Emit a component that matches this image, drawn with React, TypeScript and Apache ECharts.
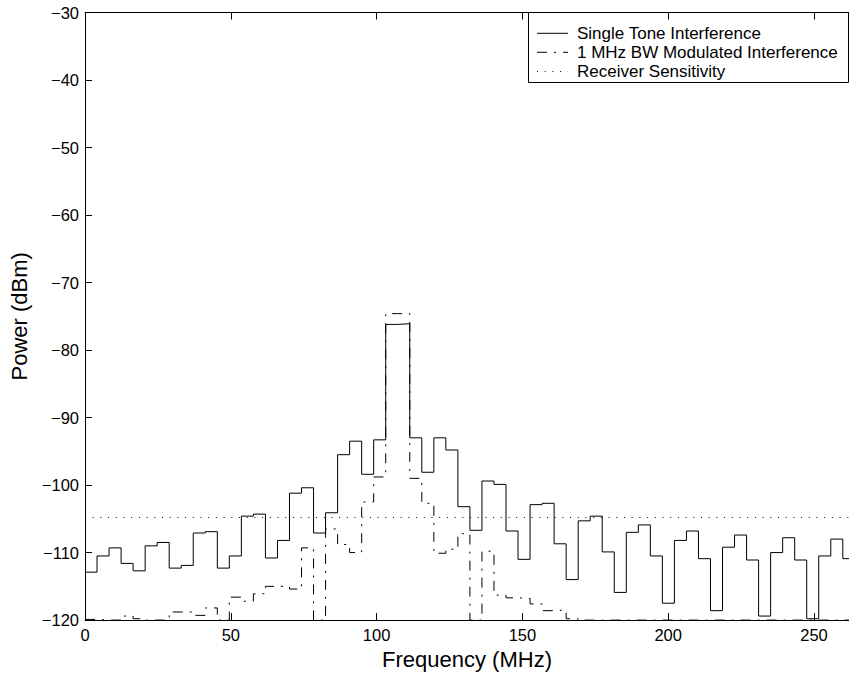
import React, { useEffect, useRef } from "react";
import * as echarts from "echarts";

// ---- data ----
const binWidth = 4.125; // MHz per step of the stair traces
const seriesNames = [
  "Single Tone Interference",
  "1 MHz BW Modulated Interference",
  "Receiver Sensitivity",
];
const singleTone = [
  -112.9, -110.5, -109.3, -111.6, -112.7, -109.0, -108.5, -112.3, -111.9, -107.1,
  -106.9, -112.3, -110.5, -104.6, -104.3, -110.8, -108.2, -101.2, -100.4, -107.1,
  -104.1, -95.5, -93.5, -98.4, -93.3, -76.2, -76.1, -93.0, -98.1, -93.0,
  -94.8, -103.2, -106.7, -99.4, -99.9, -106.8, -111.0, -102.9, -102.7, -108.7,
  -114.0, -105.3, -104.6, -109.9, -115.9, -107.0, -105.9, -110.5, -117.5, -108.2,
  -106.8, -110.9, -118.6, -109.2, -107.4, -111.1, -119.4, -110.0, -107.8, -111.1,
  -119.8, -110.5, -108.0, -110.9,
];
const modulated = [
  -119.9, -120, -120, -119.4, -119.8, -120, -120, -118.8, -118.8, -119.3,
  -118.2, -120, -116.6, -117.2, -116.1, -115.0, -115.0, -115.4, -109.3, -120,
  -106.5, -108.8, -110.0, -102.5, -98.8, -74.6, -74.6, -99.0, -102.7, -110.1,
  -109.5, -107.2, -120, -109.8, -116.3, -116.7, -116.8, -117.6, -118.6, -118.5,
  -119.8, -120, -120, -120, -120, -120, -120, -120, -120, -120,
  -120, -120, -120, -120, -120, -120, -120, -120, -120, -120,
  -120, -120, -120, -120,
];
const sensitivity = -104.8;
const xMin = 0;
const xMax = 262;
const xInterval = 50;
const yMin = -120;
const yMax = -30;
const yInterval = 10;

const FONT = "'Liberation Sans', Arial, Helvetica, sans-serif";

const toStairs = (vals: number[]) => {
  const pts = vals.map((v, i) => [i * binWidth, v]);
  pts.push([vals.length * binWidth, vals[vals.length - 1]]);
  return pts;
};

const fmt = (v: number) => (v < 0 ? "\u2212" + Math.abs(v) : String(v));

const DASHDOT = [10, 7, 2, 7];
const DOTTED = [1, 6.7];

export default function App() {
  const ref = useRef<HTMLDivElement>(null);
  useEffect(() => {
    if (!ref.current) return;
    const chart = echarts.init(ref.current, null, { renderer: "svg" });
    const axisLine = { show: true, onZero: false, lineStyle: { color: "#000", width: 1 } };
    const axisTick = { show: true, inside: true, length: 7, lineStyle: { color: "#000", width: 1 } };
    const legendRows = [33.3, 52.3, 71.5];
    const dashes: any[] = ["solid", DASHDOT, DOTTED];
    const graphic: any[] = [
      {
        type: "rect",
        shape: { x: 528.5, y: 12.5, width: 320, height: 70 },
        style: { fill: "none", stroke: "#000", lineWidth: 1 },
      },
    ];
    seriesNames.forEach((n, i) => {
      graphic.push({
        type: "line",
        shape: { x1: 537, y1: legendRows[i], x2: 568, y2: legendRows[i] },
        style: {
          stroke: "#000",
          lineWidth: 1,
          lineDash: dashes[i] === "solid" ? null : dashes[i],
        },
      });
      graphic.push({
        type: "text",
        x: 577,
        y: legendRows[i],
        style: {
          text: n,
          fontSize: 17,
          fontFamily: FONT,
          fill: "#000",
          verticalAlign: "middle",
          align: "left",
        },
      });
    });

    chart.setOption({
      animation: false,
      backgroundColor: "#fff",
      grid: { left: 85, top: 12.5, width: 766, height: 608 },
      xAxis: [
        {
          type: "value",
          min: xMin,
          max: xMax,
          interval: xInterval,
          axisLine,
          axisTick,
          splitLine: { show: false },
          axisLabel: {
            color: "#000",
            fontSize: 16.5,
            fontFamily: FONT,
            margin: 6,
            showMaxLabel: false,
            formatter: fmt,
          },
          name: "Frequency (MHz)",
          nameLocation: "middle",
          nameGap: 27,
          nameTextStyle: { color: "#000", fontSize: 22, fontFamily: FONT },
        },
        {
          type: "value",
          position: "top",
          min: xMin,
          max: xMax,
          interval: xInterval,
          axisLine,
          axisTick,
          splitLine: { show: false },
          axisLabel: { show: false },
        },
      ],
      yAxis: [
        {
          type: "value",
          min: yMin,
          max: yMax,
          interval: yInterval,
          axisLine,
          axisTick,
          splitLine: { show: false },
          axisLabel: {
            color: "#000",
            fontSize: 16.5,
            fontFamily: FONT,
            margin: 6,
            formatter: fmt,
          },
          name: "Power (dBm)",
          nameLocation: "middle",
          nameGap: 52,
          nameTextStyle: { color: "#000", fontSize: 22, fontFamily: FONT },
        },
      ],
      series: [
        {
          type: "line",
          name: seriesNames[0],
          data: toStairs(singleTone),
          step: "end",
          symbol: "none",
          lineStyle: { color: "#000", width: 1 },
          clip: true,
          z: 3,
        },
        {
          type: "line",
          name: seriesNames[1],
          data: toStairs(modulated),
          step: "end",
          symbol: "none",
          lineStyle: { color: "#000", width: 1, type: DASHDOT },
          clip: true,
          z: 2,
        },
        {
          type: "line",
          name: seriesNames[2],
          data: [
            [xMin, sensitivity],
            [xMax, sensitivity],
          ],
          symbol: "none",
          lineStyle: { color: "#000", width: 1, type: DOTTED },
          clip: true,
          z: 1,
        },
      ],
      graphic,
    });
    return () => chart.dispose();
  }, []);
  return (
    <div
      ref={ref}
      style={{ position: "fixed", left: 0, top: 0, width: 849, height: 675, background: "#fff" }}
    />
  );
}
